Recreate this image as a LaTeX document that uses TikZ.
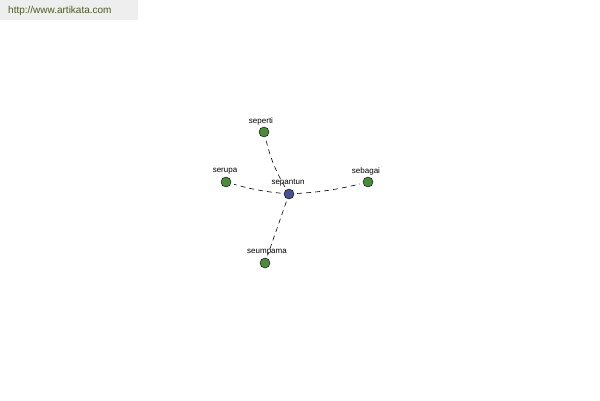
\documentclass[tikz,border=0pt]{standalone}
\usepackage{fontspec}
\setmainfont{Liberation Sans}
\definecolor{wordgreen}{HTML}{4C8A3C}
\definecolor{wordblue}{HTML}{45508F}
\definecolor{urlgreen}{HTML}{4A5A24}
\definecolor{bargray}{HTML}{EEEEEE}
\begin{document}
\begin{tikzpicture}[x=1pt,y=-1pt,
  word/.style={circle,draw,fill=wordgreen,inner sep=0pt,minimum size=10pt},
  root/.style={word,fill=wordblue},
  wordlabel/.style={font=\fontsize{8}{9}\selectfont,inner sep=0pt},
  link/.style={dash pattern=on 5pt off 4pt,semithick,shorten <=3pt,shorten >=3pt}]
  \useasboundingbox (0,0) rectangle (600,400);
  \fill[bargray] (0,0) rectangle (138,20);
  \node[anchor=west,text=urlgreen,font=\fontsize{10}{11}\selectfont,inner sep=0pt] (url) at (8,11) {http://www.artikata.com};
  % nodes
  \node[root] (sepantun) at (289,194) {};
  \node[word] (seperti) at (264,132) {};
  \node[word] (serupa) at (226,182) {};
  \node[word] (sebagai) at (368,182) {};
  \node[word] (seumpama) at (265,263) {};
  % labels
  \node[wordlabel] at (288,183) {sepantun};
  \node[wordlabel] at (261,121) {seperti};
  \node[wordlabel] at (225,171) {serupa};
  \node[wordlabel] at (366,171) {sebagai};
  \node[wordlabel] at (267,252) {seumpama};
  % links
  \draw[link] (sepantun) to[bend left=8] (seperti);
  \draw[link] (sepantun) to[bend left=5] (serupa);
  \draw[link] (sepantun) to[bend right=5] (sebagai);
  \draw[link] (sepantun) -- (seumpama);
\end{tikzpicture}
\end{document}
